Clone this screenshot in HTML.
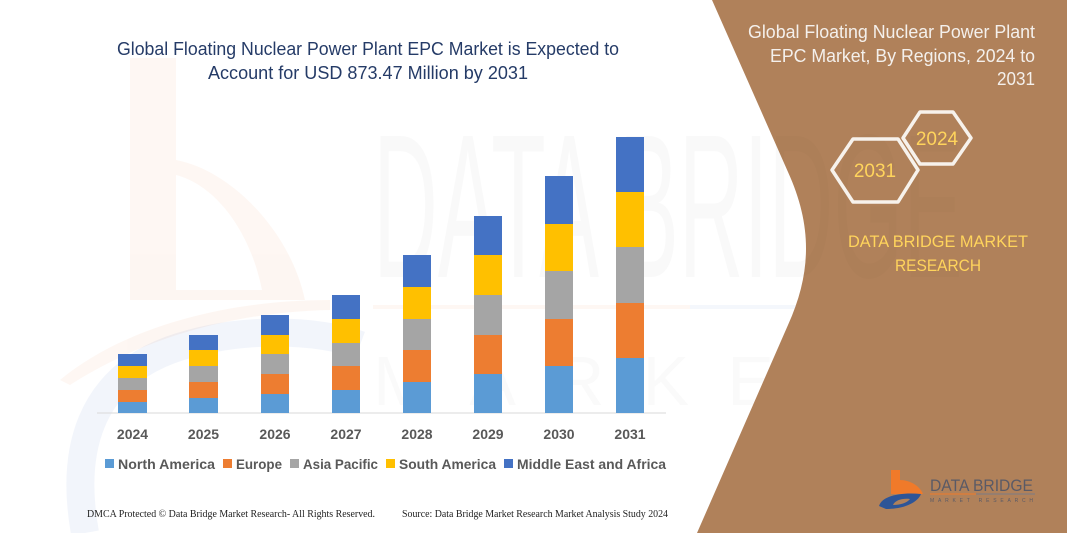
<!DOCTYPE html>
<html>
<head>
<meta charset="utf-8">
<style>
  html,body{margin:0;padding:0;background:#fff;}
  svg{display:block;}
</style>
</head>
<body>
<svg width="1067" height="533" viewBox="0 0 1067 533" xmlns="http://www.w3.org/2000/svg">
  <rect x="0" y="0" width="1067" height="533" fill="#ffffff"/>

  <!-- faint watermark: orange b logo -->
  <g opacity="0.06">
    <path d="M130,58 L176,58 L176,160 C230,170 290,230 305,300 L176,300 L130,300 Z M176,175 L176,290 L262,290 C250,230 215,185 176,175 Z" fill="#ED7D31" fill-rule="evenodd"/>
    <path d="M60,380 C120,330 220,300 330,300 L330,310 C230,312 140,340 70,385 Z" fill="#ED7D31"/>
  </g>
  <g opacity="0.07" fill="none" stroke="#4472C4">
    <path d="M85,533 C70,450 90,380 170,350 C240,325 320,330 360,345" stroke-width="28"/>
  </g>

  <!-- faint watermark text -->
  <text x="373" y="277" font-family="Liberation Sans, sans-serif" font-size="205" fill="#000" fill-opacity="0.025" textLength="590" lengthAdjust="spacingAndGlyphs">DATA BRIDGE</text>
  <line x1="373" y1="307" x2="690" y2="307" stroke="#ED7D31" stroke-opacity="0.06" stroke-width="4"/>
  <line x1="690" y1="307" x2="960" y2="307" stroke="#4472C4" stroke-opacity="0.06" stroke-width="4"/>
  <text x="373" y="405" font-family="Liberation Sans, sans-serif" font-size="70" fill="#000" fill-opacity="0.02" letter-spacing="38">MARKETRES</text>

  <!-- brown panel -->
  <path d="M712,0 L788,172 C812,225 812,272 788,325 L697,533 L1067,533 L1067,0 Z" fill="#B0815A"/>
  <clipPath id="cp"><path d="M712,0 L788,172 C812,225 812,272 788,325 L697,533 L1067,533 L1067,0 Z"/></clipPath>
  <g clip-path="url(#cp)">
    <text x="373" y="277" font-family="Liberation Sans, sans-serif" font-size="205" fill="#000" fill-opacity="0.012" textLength="590" lengthAdjust="spacingAndGlyphs">DATA BRIDGE</text>
  </g>

  <!-- main title -->
  <g font-family="Liberation Sans, sans-serif" fill="#253B67" text-anchor="middle">
    <text x="368" y="55" font-size="18" textLength="502" lengthAdjust="spacingAndGlyphs">Global Floating Nuclear Power Plant EPC Market is Expected to</text>
    <text x="368" y="79" font-size="18" textLength="320" lengthAdjust="spacingAndGlyphs">Account for USD 873.47 Million by 2031</text>
  </g>

  <!-- axis -->
  <line x1="97" y1="413" x2="666" y2="413" stroke="#D9D9D9" stroke-width="1"/>

  <!-- bars -->
  <g>
    <rect x="118" y="402" width="29" height="11" fill="#5B9BD5"/>
    <rect x="118" y="390" width="29" height="12" fill="#ED7D31"/>
    <rect x="118" y="378" width="29" height="12" fill="#A5A5A5"/>
    <rect x="118" y="366" width="29" height="12" fill="#FFC000"/>
    <rect x="118" y="354" width="29" height="12" fill="#4472C4"/>

    <rect x="189" y="398" width="29" height="15" fill="#5B9BD5"/>
    <rect x="189" y="382" width="29" height="16" fill="#ED7D31"/>
    <rect x="189" y="366" width="29" height="16" fill="#A5A5A5"/>
    <rect x="189" y="350" width="29" height="16" fill="#FFC000"/>
    <rect x="189" y="335" width="29" height="15" fill="#4472C4"/>

    <rect x="261" y="394" width="28" height="19" fill="#5B9BD5"/>
    <rect x="261" y="374" width="28" height="20" fill="#ED7D31"/>
    <rect x="261" y="354" width="28" height="20" fill="#A5A5A5"/>
    <rect x="261" y="335" width="28" height="19" fill="#FFC000"/>
    <rect x="261" y="315" width="28" height="20" fill="#4472C4"/>

    <rect x="332" y="390" width="28" height="23" fill="#5B9BD5"/>
    <rect x="332" y="366" width="28" height="24" fill="#ED7D31"/>
    <rect x="332" y="343" width="28" height="23" fill="#A5A5A5"/>
    <rect x="332" y="319" width="28" height="24" fill="#FFC000"/>
    <rect x="332" y="295" width="28" height="24" fill="#4472C4"/>

    <rect x="403" y="382" width="28" height="31" fill="#5B9BD5"/>
    <rect x="403" y="350" width="28" height="32" fill="#ED7D31"/>
    <rect x="403" y="319" width="28" height="31" fill="#A5A5A5"/>
    <rect x="403" y="287" width="28" height="32" fill="#FFC000"/>
    <rect x="403" y="255" width="28" height="32" fill="#4472C4"/>

    <rect x="474" y="374" width="28" height="39" fill="#5B9BD5"/>
    <rect x="474" y="335" width="28" height="39" fill="#ED7D31"/>
    <rect x="474" y="295" width="28" height="40" fill="#A5A5A5"/>
    <rect x="474" y="255" width="28" height="40" fill="#FFC000"/>
    <rect x="474" y="216" width="28" height="39" fill="#4472C4"/>

    <rect x="545" y="366" width="28" height="47" fill="#5B9BD5"/>
    <rect x="545" y="319" width="28" height="47" fill="#ED7D31"/>
    <rect x="545" y="271" width="28" height="48" fill="#A5A5A5"/>
    <rect x="545" y="224" width="28" height="47" fill="#FFC000"/>
    <rect x="545" y="176" width="28" height="48" fill="#4472C4"/>

    <rect x="616" y="358" width="28" height="55" fill="#5B9BD5"/>
    <rect x="616" y="303" width="28" height="55" fill="#ED7D31"/>
    <rect x="616" y="247" width="28" height="56" fill="#A5A5A5"/>
    <rect x="616" y="192" width="28" height="55" fill="#FFC000"/>
    <rect x="616" y="137" width="28" height="55" fill="#4472C4"/>
  </g>

  <!-- year labels -->
  <g font-family="Liberation Sans, sans-serif" font-weight="bold" font-size="14" fill="#595959" text-anchor="middle">
    <text x="132.5" y="439">2024</text>
    <text x="203.5" y="439">2025</text>
    <text x="275" y="439">2026</text>
    <text x="346" y="439">2027</text>
    <text x="417" y="439">2028</text>
    <text x="488" y="439">2029</text>
    <text x="559" y="439">2030</text>
    <text x="630" y="439">2031</text>
  </g>

  <!-- legend -->
  <g font-family="Liberation Sans, sans-serif" font-weight="bold" font-size="14" fill="#595959">
    <rect x="105" y="459" width="9" height="9" fill="#5B9BD5"/>
    <text x="118" y="469" textLength="97" lengthAdjust="spacingAndGlyphs">North America</text>
    <rect x="223" y="459" width="9" height="9" fill="#ED7D31"/>
    <text x="236" y="469" textLength="46" lengthAdjust="spacingAndGlyphs">Europe</text>
    <rect x="290" y="459" width="9" height="9" fill="#A5A5A5"/>
    <text x="303" y="469" textLength="75" lengthAdjust="spacingAndGlyphs">Asia Pacific</text>
    <rect x="386" y="459" width="9" height="9" fill="#FFC000"/>
    <text x="399" y="469" textLength="97" lengthAdjust="spacingAndGlyphs">South America</text>
    <rect x="504" y="459" width="9" height="9" fill="#4472C4"/>
    <text x="517" y="469" textLength="149" lengthAdjust="spacingAndGlyphs">Middle East and Africa</text>
  </g>

  <!-- footer -->
  <g font-family="Liberation Serif, serif" font-size="10" fill="#222">
    <text x="87" y="517" textLength="288" lengthAdjust="spacingAndGlyphs">DMCA Protected © Data Bridge Market Research-  All Rights Reserved.</text>
    <text x="402" y="517" textLength="266" lengthAdjust="spacingAndGlyphs">Source: Data Bridge Market Research  Market Analysis Study 2024</text>
  </g>

  <!-- right panel title -->
  <g font-family="Liberation Sans, sans-serif" font-size="18" fill="#F4F0EC" text-anchor="end">
    <text x="1035" y="38" textLength="287" lengthAdjust="spacingAndGlyphs">Global Floating Nuclear Power Plant</text>
    <text x="1035" y="62" textLength="265" lengthAdjust="spacingAndGlyphs">EPC Market, By Regions, 2024 to</text>
    <text x="1035" y="85" textLength="38" lengthAdjust="spacingAndGlyphs">2031</text>
  </g>

  <!-- hexagons -->
  <g fill="none" stroke="#F7F2EC" stroke-width="3.5" stroke-linejoin="round">
    <polygon points="903,138 920,112 953,112 971,138 953,164 920,164"/>
    <polygon points="832,170 853,139 898,139 918,170 898,202 853,202"/>
  </g>
  <g font-family="Liberation Sans, sans-serif" font-size="19" fill="#FFD45C" text-anchor="middle">
    <text x="937" y="145">2024</text>
    <text x="875" y="177">2031</text>
  </g>

  <!-- DBMR text -->
  <g font-family="Liberation Sans, sans-serif" font-size="17" fill="#FFD45C" text-anchor="middle">
    <text x="938" y="247" textLength="180" lengthAdjust="spacingAndGlyphs">DATA BRIDGE MARKET</text>
    <text x="938" y="271" textLength="86" lengthAdjust="spacingAndGlyphs">RESEARCH</text>
  </g>

  <!-- logo bottom right -->
  <g>
    <path d="M891,470 L900,470 L900,480 C910,480 920,486 923,494 L891,494 Z" fill="#F07A2A"/>
    <path d="M879,506 C882,496 900,492 921,494 C918,502 905,509 886,509 Z" fill="#2E5597"/>
    <path d="M893,505 C895,500 903,498 910,499 C907,503 900,505 893,505 Z" fill="#B0815A"/>
    <text x="930" y="491" font-family="Liberation Sans, sans-serif" font-size="17" fill="#5A5A66" textLength="103" lengthAdjust="spacingAndGlyphs">DATA BRIDGE</text>
    <line x1="930" y1="494" x2="976" y2="494" stroke="#F07A2A" stroke-width="1"/>
    <line x1="976" y1="494" x2="1035" y2="494" stroke="#7A7A86" stroke-width="1"/>
    <text x="930" y="502" font-family="Liberation Sans, sans-serif" font-size="5" fill="#5A5A66" textLength="103" lengthAdjust="spacing">MARKET RESEARCH</text>
  </g>
</svg>
</body>
</html>
